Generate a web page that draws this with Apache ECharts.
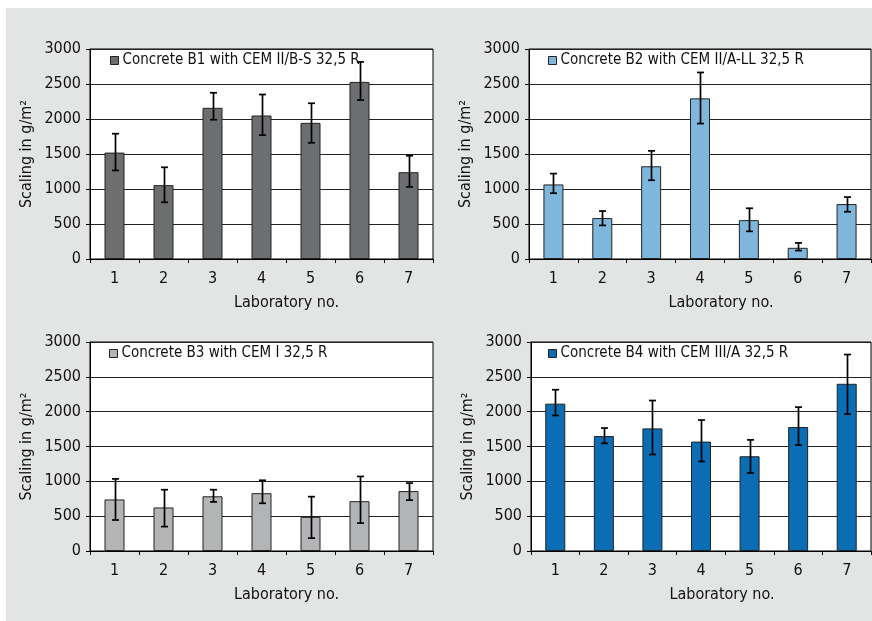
<!DOCTYPE html>
<html>
<head>
<meta charset="utf-8">
<script src="https://cdn.jsdelivr.net/npm/echarts@6/dist/echarts.min.js"></script>
<style>
html,body{margin:0;padding:0;background:#fff;}
#chart{width:872px;height:621px;}
</style>
</head>
<body>
<div id="chart"></div>
<script>
// ---- data ----
const categories = ['1','2','3','4','5','6','7'];
const yTicks = [0, 500, 1000, 1500, 2000, 2500, 3000];

const seriesNames = [
  'Concrete B1 with CEM II/B-S 32,5 R',
  'Concrete B2 with CEM II/A-LL 32,5 R',
  'Concrete B3 with CEM I 32,5 R',
  'Concrete B4 with CEM III/A 32,5 R'
];

const b1Values = [1520, 1055, 2160, 2050, 1945, 2530, 1240];
const b1High   = [1790, 1310, 2375, 2350, 2225, 2815, 1475];
const b1Low    = [1265,  810, 1990, 1770, 1660, 2270, 1030];

const b2Values = [1065,  585, 1325, 2295,  555,  160,  785];
const b2High   = [1220,  685, 1545, 2665,  725,  230,  885];
const b2Low    = [ 940,  480, 1125, 1935,  395,  120,  675];

const b3Values = [ 740,  625,  785,  830,  490,  715,  860];
const b3High   = [1035,  880,  880, 1015,  780, 1070,  975];
const b3Low    = [ 445,  350,  705,  685,  185,  400,  730];

const b4Values = [2115, 1650, 1760, 1570, 1360, 1780, 2400];
const b4High   = [2315, 1765, 2160, 1880, 1595, 2065, 2820];
const b4Low    = [1945, 1545, 1385, 1285, 1120, 1520, 1965];

const xAxisTitle = 'Laboratory no.';
const yAxisTitle = 'Scaling in g/m²';

// ---- layout / style ----
const FONT = '"DejaVu Sans Condensed","Liberation Sans Narrow",Arial,sans-serif';
const colors = ['#6d6e70', '#7eb6dc', '#b3b4b5', '#0b6db4'];
const grids = [
  {left: 90, top: 49, width: 343, height: 210},
  {left: 529, top: 49, width: 342, height: 210},
  {left: 90, top: 342, width: 343, height: 209},
  {left: 531, top: 342, width: 340, height: 209}
];
const legendPos = [
  {left: 110, top: 53},
  {left: 548, top: 53},
  {left: 109, top: 346},
  {left: 548, top: 346}
];
const allValues = [b1Values, b2Values, b3Values, b4Values];
const allHigh = [b1High, b2High, b3High, b4High];
const allLow = [b1Low, b2Low, b3Low, b4Low];

const option = {
  animation: false,
  backgroundColor: '#ffffff',
  textStyle: {fontFamily: FONT},
  graphic: [{
    type: 'rect', z: -10, silent: true,
    shape: {x: 6, y: 8, width: 866, height: 613},
    style: {fill: '#e3e4e4'}
  }],
  grid: grids.map(g => Object.assign({
    show: true, backgroundColor: '#ffffff', borderColor: '#000', borderWidth: 1, containLabel: false
  }, g)),
  legend: legendPos.map((p, i) => ({
    data: [seriesNames[i]],
    left: p.left, top: p.top,
    orient: 'horizontal',
    icon: 'rect',
    itemWidth: 8, itemHeight: 8, itemGap: 4,
    padding: 0,
    itemStyle: {borderColor: '#222', borderWidth: 1},
    textStyle: {fontFamily: FONT, fontSize: 15, color: '#111', padding: [0, 0, 0, -1]}
  })),
  xAxis: grids.map((g, i) => ({
    type: 'category', gridIndex: i, data: categories,
    boundaryGap: true,
    axisLine: {show: true, lineStyle: {color: '#000', width: 1}},
    axisTick: {show: true, inside: false, length: 4, lineStyle: {color: '#000'}},
    axisLabel: {fontFamily: FONT, fontSize: 16, color: '#111', margin: 12},
    splitLine: {show: false},
    name: xAxisTitle, nameLocation: 'middle', nameGap: 36,
    nameTextStyle: {fontFamily: FONT, fontSize: 16, color: '#111', padding: [0, 0, 0, i % 2 === 0 ? 50 : 42]}
  })),
  yAxis: grids.map((g, i) => ({
    type: 'value', gridIndex: i, min: 0, max: 3000, interval: 500,
    axisLine: {show: true, lineStyle: {color: '#000', width: 1}},
    axisTick: {show: true, inside: false, length: 4, lineStyle: {color: '#000'}},
    axisLabel: {fontFamily: FONT, fontSize: 16, color: '#111', margin: 9,
      formatter: v => yTicks.includes(v) ? String(v) : ''},
    splitLine: {show: true, lineStyle: {color: '#222', width: 1}},
    name: yAxisTitle, nameLocation: 'middle', nameGap: 55, nameRotate: 90,
    nameTextStyle: {fontFamily: FONT, fontSize: 16, color: '#111'}
  })),
  series: []
};

allValues.forEach((vals, i) => {
  option.series.push({
    name: seriesNames[i], type: 'bar', xAxisIndex: i, yAxisIndex: i,
    data: vals, barWidth: 20,
    itemStyle: {color: colors[i], borderColor: '#222', borderWidth: 1}
  });
  option.series.push({
    type: 'custom', xAxisIndex: i, yAxisIndex: i, z: 5,
    data: vals.map((v, k) => [k, allLow[i][k], allHigh[i][k]]),
    encode: {x: 0, y: [1, 2]},
    renderItem: function (params, api) {
      const x = api.value(0);
      const lo = api.coord([x, api.value(1)]);
      const hi = api.coord([x, api.value(2)]);
      const cx = Math.round(lo[0]) + 0.5;
      const w = 3.5;
      const st = {stroke: '#000', lineWidth: 1.7, fill: null};
      return {
        type: 'group',
        children: [
          {type: 'line', shape: {x1: cx, y1: hi[1], x2: cx, y2: lo[1]}, style: st},
          {type: 'line', shape: {x1: cx - w, y1: hi[1], x2: cx + w, y2: hi[1]}, style: st},
          {type: 'line', shape: {x1: cx - w, y1: lo[1], x2: cx + w, y2: lo[1]}, style: st}
        ]
      };
    },
    silent: true
  });
});

const chart = echarts.init(document.getElementById('chart'), null, {renderer: 'canvas'});
chart.setOption(option);
</script>
</body>
</html>
